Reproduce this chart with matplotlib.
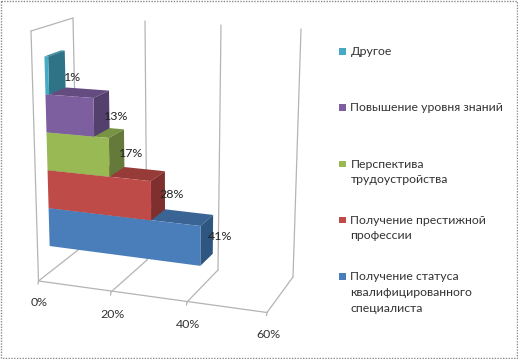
import numpy as np
import matplotlib
matplotlib.use("Agg")
import matplotlib.pyplot as plt
from matplotlib.patches import Polygon, Rectangle

plt.rcParams['font.family'] = ['Lato', 'DejaVu Sans']

categories = ["Получение статуса\nквалифицированного\nспециалиста",
              "Получение престижной\nпрофессии",
              "Перспектива\nтрудоустройства",
              "Повышение уровня знаний",
              "Другое"]
values = [41, 28, 17, 13, 1]
ticks = [0, 20, 40, 60]
tick_labels = ["0%", "20%", "40%", "60%"]

front_colors = ["#4A7EBB", "#BE4B48", "#98B954", "#7D5FA0", "#46AAC4"]
side_colors = ["#2F5680", "#7F2F2D", "#64793A", "#54406C", "#2F7386"]
top_colors = ["#3A6494", "#973B39", "#789343", "#644C80", "#38889C"]
legend_y = [276, 219.5, 163.5, 107, 51]

# Calibration of the chart box (pixel position of box corners at each tick)
fb = np.array([[38.5, 281], [111, 292], [187, 302], [267, 312.5]], float)
bb = np.array([[78, 250], [147, 260], [218, 270], [293, 277]], float)
bt = np.array([[73, 18], [145, 21], [221, 25], [301, 29]], float)
ft = np.array([[31, 31], [107, 35], [187, 40], [270, 45]], float)

def proj(v, d, h):
    def at(c):
        return np.array([np.interp(v, ticks, c[:, 0]), np.interp(v, ticks, c[:, 1])])
    bottom = at(fb) * (1 - d) + at(bb) * d
    top = at(ft) * (1 - d) + at(bt) * d
    return tuple(bottom * (1 - h) + top * h)

fig = plt.figure(figsize=(5.18, 3.59), dpi=100)
ax = fig.add_axes([0, 0, 1, 1])
ax.set_xlim(0, 518)
ax.set_ylim(359, 0)
ax.axis("off")

grid = "#B4B4B4"
def seg(a, b, c=grid, lw=0.9, z=1):
    ax.plot([a[0], b[0]], [a[1], b[1]], color=c, lw=lw, zorder=z, solid_capstyle="round")

# Walls and floor
seg(proj(0, 0, 0), proj(0, 0, 1))
seg(proj(0, 0, 1), proj(0, 1, 1))
seg(proj(0, 1, 1), proj(0, 1, 0))
seg(proj(0, 0, 0), proj(60, 0, 0))
for t in ticks:
    seg(proj(t, 0, 0), proj(t, 1, 0))
    if t > 0:
        seg(proj(t, 1, 0), proj(t, 1, 1))
    p = proj(t, 0, 0)
    ax.plot([p[0], p[0] - 0.5], [p[1], p[1] + 3], color=grid, lw=0.9, zorder=1)

# Bars
d0, d1 = 0.30, 0.70
h0, step = 0.105, 0.155
for i, v in enumerate(values):
    hl, hh = h0 + i * step, h0 + (i + 1) * step
    face = [proj(0, d0, hl), proj(v, d0, hl), proj(v, d0, hh), proj(0, d0, hh)]
    side = [proj(v, d0, hl), proj(v, d1, hl), proj(v, d1, hh), proj(v, d0, hh)]
    top = [proj(0, d0, hh), proj(v, d0, hh), proj(v, d1, hh), proj(0, d1, hh)]
    z = 2 + i
    ax.add_patch(Polygon(top, closed=True, fc=top_colors[i], ec="none", zorder=z))
    ax.add_patch(Polygon(side, closed=True, fc=side_colors[i], ec="none", zorder=z))
    ax.add_patch(Polygon(face, closed=True, fc=front_colors[i], ec="none", zorder=z))
    lx, ly = proj(v, d1, 0.108 + (i + 0.5) * 0.148)
    ax.text(lx + 7, ly + 2, f"{v}%", ha="center", va="center", fontsize=8.9,
            color="#222222", zorder=20)

# Axis tick labels
for t, lab in zip(ticks, tick_labels):
    p = proj(t, 0, 0)
    ax.text(p[0] + 1, p[1] + 22, lab, ha="center", va="center", fontsize=8.9, color="#333333")

# Legend
for y, lab, c in zip(legend_y, categories, front_colors):
    ax.add_patch(Rectangle((339, y - 3), 6.5, 6.5, fc=c, ec="none"))
    ax.text(350.5, y - 5, lab, ha="left", va="top", fontsize=8.85, color="#333333", linespacing=1.55)

# Dotted picture border
ax.add_patch(Rectangle((1, 0.5), 515.5, 357.5, fc="none", ec="#8A8A8A", lw=1, ls=(0, (1, 1))))

fig.savefig("out.png", dpi=100)
